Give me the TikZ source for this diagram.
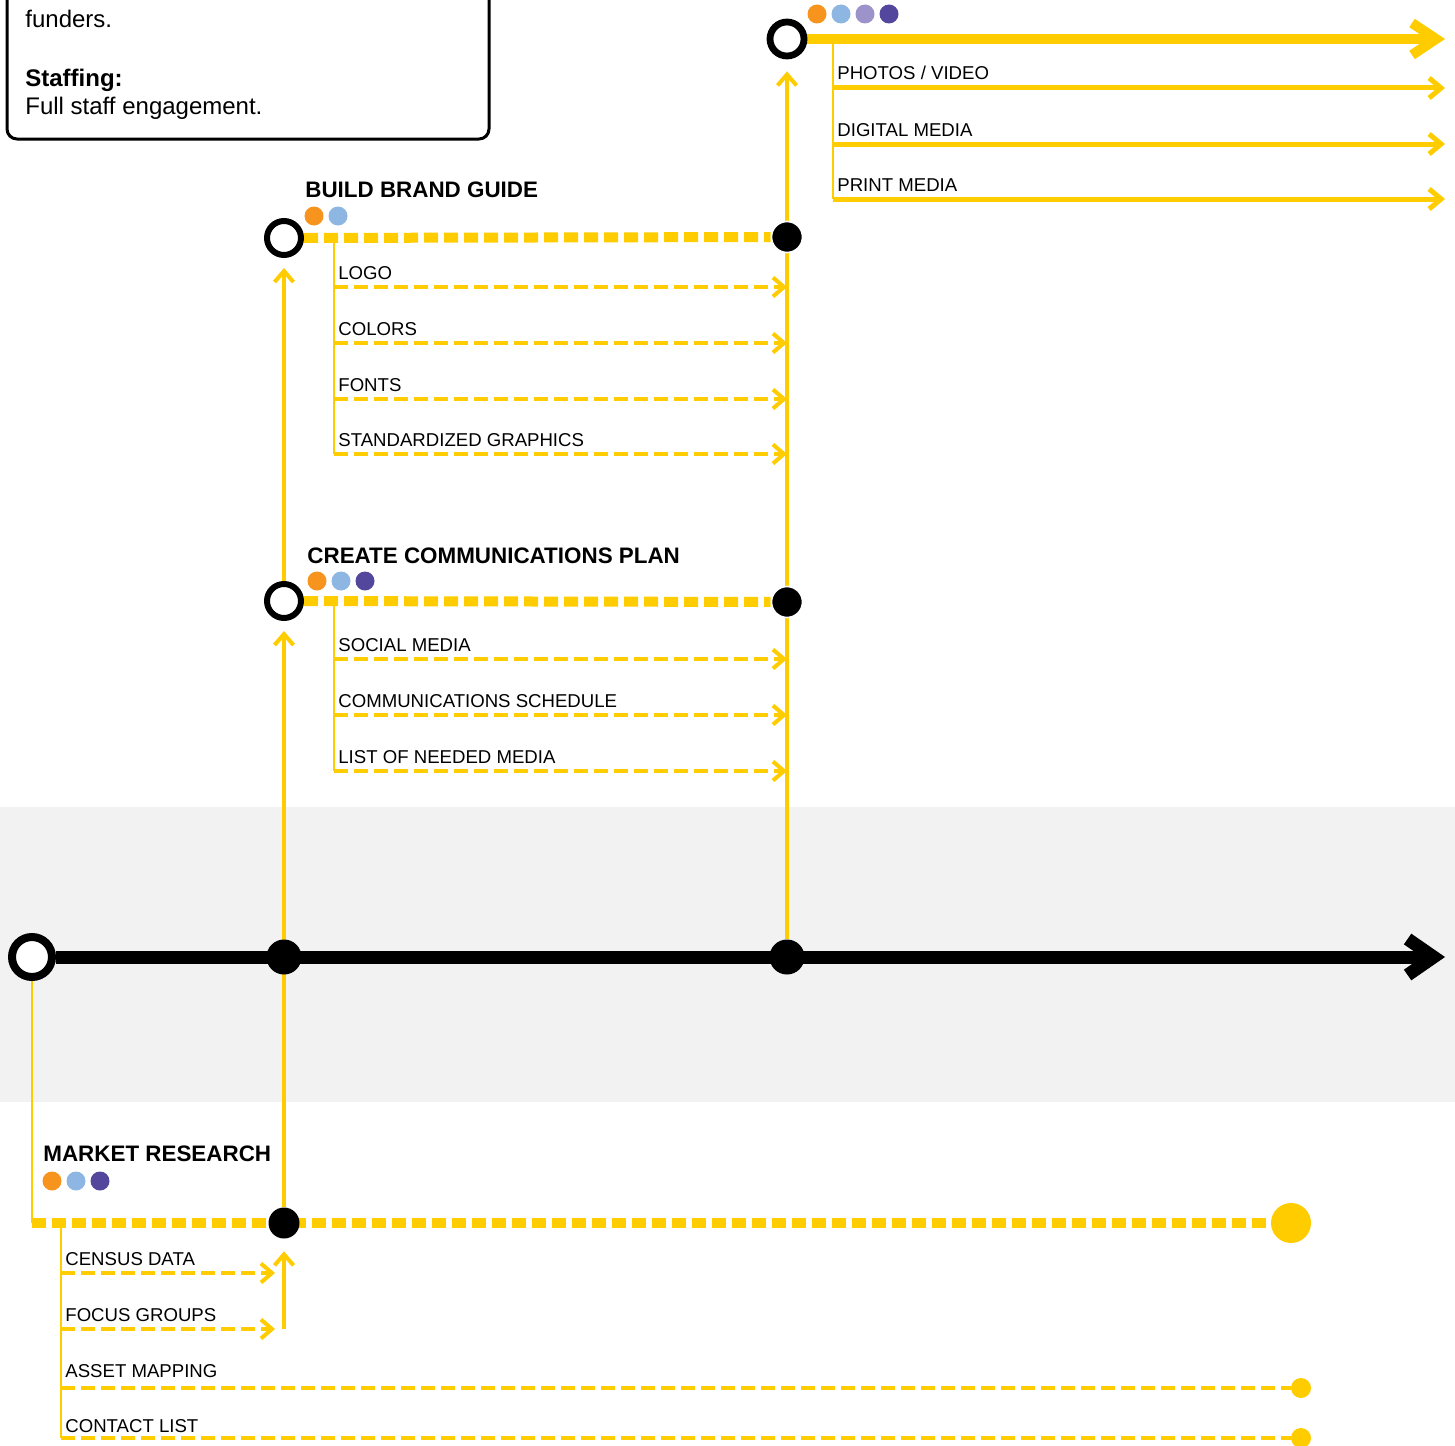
\documentclass[tikz,border=0pt]{standalone}
\usepackage{fontspec}
\setmainfont{Liberation Sans}
\usetikzlibrary{arrows.meta}
\definecolor{ylw}{HTML}{FFCC00}
\definecolor{orng}{HTML}{F7941D}
\definecolor{ltblue}{HTML}{8DB6E2}
\definecolor{lav}{HTML}{9B93C9}
\definecolor{indigo}{HTML}{52479C}
\definecolor{band}{HTML}{F2F2F2}
\pgfdeclarelayer{bg}
\pgfsetlayers{bg,main}
\tikzset{
  opencirc/.style={circle,draw=black,fill=white,line width=3pt,inner sep=0pt,minimum size=17pt},
  blackdot/.style={circle,fill=black,draw=white,line width=0.8pt,inner sep=0pt,minimum size=15.5pt},
  tagdot/.style={circle,inner sep=0pt,minimum size=9.5pt},
  title/.style={anchor=base west,inner sep=0pt,font=\bfseries\fontsize{11.2}{13}\selectfont},
  lbl/.style={anchor=base west,inner sep=0pt,font=\fontsize{9.3}{11}\selectfont},
  boxtext/.style={anchor=base west,inner sep=0pt,font=\fontsize{12}{14}\selectfont},
  maindash/.style={ylw,line width=5pt,dash pattern=on 7pt off 3pt},
  subdash/.style={ylw,line width=2pt,dash pattern=on 7pt off 3pt,-{Straight Barb[length=5.5pt,width=9.5pt]}},
  subsolid/.style={ylw,line width=2.5pt,-{Straight Barb[length=6pt,width=10pt]}},
  upline/.style={ylw,line width=2pt,-{Straight Barb[length=5.5pt,width=9.5pt]},shorten >=5pt},
  stem/.style={ylw,line width=1.3pt}
}

\begin{document}
\begin{tikzpicture}[x=0.5pt,y=-0.5pt]
	\useasboundingbox (0,0) rectangle (1455,1445);
	\clip (0,0) rectangle (1455,1445);

	\draw [rounded corners=5pt,line width=1.5pt] (7,-30) rectangle (489,139);
	\node [boxtext] (fund) at (25,28) {funders.};
	\node [boxtext,font=\bfseries\fontsize{12}{14}\selectfont] (staff) at (25,87) {Staffing:};
	\node [boxtext] (eng) at (25,115) {Full staff engagement.};

	\node [opencirc,line width=4pt,minimum size=20pt] (t0) at (32,957) {};
	\node [blackdot,draw=none,minimum size=17.5pt] (t1) at (284,957) {};
	\node [blackdot,draw=none,minimum size=17.5pt] (t2) at (787,957) {};
	\coordinate (tend) at (1445,957);

	\node [title] (mrt) at (43,1161) {MARKET RESEARCH};
	\node [tagdot,fill=orng] (mr-o) at (52,1181) {};
	\node [tagdot,fill=ltblue] (mr-b) at (76,1181) {};
	\node [tagdot,fill=indigo] (mr-i) at (100,1181) {};
	\coordinate (mrc) at (32,1223);
	\coordinate (mrv) at (61,1223);
	\node [blackdot,draw=none] (mr1) at (284,1223) {};
	\node [circle,fill=ylw,inner sep=0pt,minimum size=20pt] (mrend) at (1291,1223) {};
	\node [lbl] (census) at (65,1265) {CENSUS DATA};
	\node [lbl] (focus) at (65,1321) {FOCUS GROUPS};
	\node [lbl] (asset) at (65,1377) {ASSET MAPPING};
	\node [lbl] (contact) at (65,1432) {CONTACT LIST};
	\coordinate (census-a) at (61,1273);
	\coordinate (focus-a) at (61,1329);
	\coordinate (asset-a) at (61,1388);
	\coordinate (contact-a) at (61,1438);
	\coordinate (fg-up) at (284,1329);
	\node [circle,fill=ylw,inner sep=0pt,minimum size=10pt] (asset-dot) at (1301,1388) {};
	\node [circle,fill=ylw,inner sep=0pt,minimum size=10pt] (contact-dot) at (1301,1438) {};

	\node [title] (cpt) at (307,563) {CREATE COMMUNICATIONS PLAN};
	\node [tagdot,fill=orng] (cp-o) at (317,581) {};
	\node [tagdot,fill=ltblue] (cp-b) at (341,581) {};
	\node [tagdot,fill=indigo] (cp-i) at (365,581) {};
	\node [opencirc] (cp) at (284,601) {};
	\node [blackdot] (cp2) at (787,602) {};
	\coordinate (cpv) at (334,602);
	\node [lbl] (social) at (338,651) {SOCIAL MEDIA};
	\node [lbl] (sched) at (338,707) {COMMUNICATIONS SCHEDULE};
	\node [lbl] (needed) at (338,763) {LIST OF NEEDED MEDIA};
	\coordinate (social-a) at (334,659);
	\coordinate (sched-a) at (334,715);
	\coordinate (needed-a) at (334,771);

	\node [title] (bgt) at (305,197) {BUILD BRAND GUIDE};
	\node [tagdot,fill=orng] (bg-o) at (314,216) {};
	\node [tagdot,fill=ltblue] (bg-b) at (338,216) {};
	\node [opencirc] (bg) at (284,238) {};
	\node [blackdot] (bg2) at (787,237) {};
	\coordinate (bgv) at (334,238);
	\node [lbl] (logo) at (338,279) {LOGO};
	\node [lbl] (colors) at (338,335) {COLORS};
	\node [lbl] (fonts) at (338,391) {FONTS};
	\node [lbl] (graphics) at (338,446) {STANDARDIZED GRAPHICS};
	\coordinate (logo-a) at (334,287);
	\coordinate (colors-a) at (334,343);
	\coordinate (fonts-a) at (334,399);
	\coordinate (graphics-a) at (334,454);

	\node [tagdot,fill=orng] (pm-o) at (817,14) {};
	\node [tagdot,fill=ltblue] (pm-b) at (841,14) {};
	\node [tagdot,fill=lav] (pm-l) at (865,14) {};
	\node [tagdot,fill=indigo] (pm-i) at (889,14) {};
	\node [opencirc,line width=3.4pt] (pm) at (787,39) {};
	\coordinate (pmend) at (1445,39);
	\coordinate (pmv) at (833,39);
	\node [lbl] (photos) at (837,80) {PHOTOS / VIDEO};
	\node [lbl] (digital) at (837,136) {DIGITAL MEDIA};
	\node [lbl] (print) at (837,191) {PRINT MEDIA};
	\coordinate (photos-a) at (833,88);
	\coordinate (digital-a) at (833,144);
	\coordinate (print-a) at (833,199);

	\begin{pgfonlayer}{bg}
	\fill [band] (0,807) rectangle (1455,1102);
	\draw [line width=6.5pt,-{Straight Barb[length=13pt,width=18pt]}] (t0) -- (tend);

	\draw [stem] (t0) -- (mrc);
	\draw [maindash] (mrc) -- (mrend);
	\draw [stem] (mrv) -- (contact-a);
	\draw [subdash,shorten >=4.5pt] (census-a) -- (census-a -| mr1);
	\draw [subdash,shorten >=4.5pt] (focus-a) -- (focus-a -| mr1);
	\draw [ylw,line width=2pt,dash pattern=on 7pt off 3pt] (asset-a) -- (asset-dot);
	\draw [ylw,line width=2pt,dash pattern=on 7pt off 3pt] (contact-a) -- (contact-dot);
	\draw [upline,shorten >=6pt] (fg-up) -- (mr1);
	\draw [upline] (mr1) -- (cp);

	\draw [maindash] (cp) -- (cp2);
	\draw [stem] (cpv) -- (needed-a);
	\draw [subdash] (social-a) -- (social-a -| cp2);
	\draw [subdash] (sched-a) -- (sched-a -| cp2);
	\draw [subdash] (needed-a) -- (needed-a -| cp2);
	\draw [upline] (cp) -- (bg);

	\draw [maindash] (bg) -- (bg2);
	\draw [stem] (bgv) -- (graphics-a);
	\draw [subdash] (logo-a) -- (logo-a -| bg2);
	\draw [subdash] (colors-a) -- (colors-a -| bg2);
	\draw [subdash] (fonts-a) -- (fonts-a -| bg2);
	\draw [subdash] (graphics-a) -- (graphics-a -| bg2);

	\draw [ylw,line width=2pt] (t2) -- (cp2);
	\draw [ylw,line width=2pt] (cp2) -- (bg2);
	\draw [upline,shorten >=6pt] (bg2) -- (pm);

	\draw [ylw,line width=5pt,-{Straight Barb[length=12pt,width=16pt]}] (pm) -- (pmend);
	\draw [stem] (pmv) -- (print-a);
	\draw [subsolid] (photos-a) -- (photos-a -| pmend);
	\draw [subsolid] (digital-a) -- (digital-a -| pmend);
	\draw [subsolid] (print-a) -- (print-a -| pmend);
	\end{pgfonlayer}
\end{tikzpicture}
\end{document}
